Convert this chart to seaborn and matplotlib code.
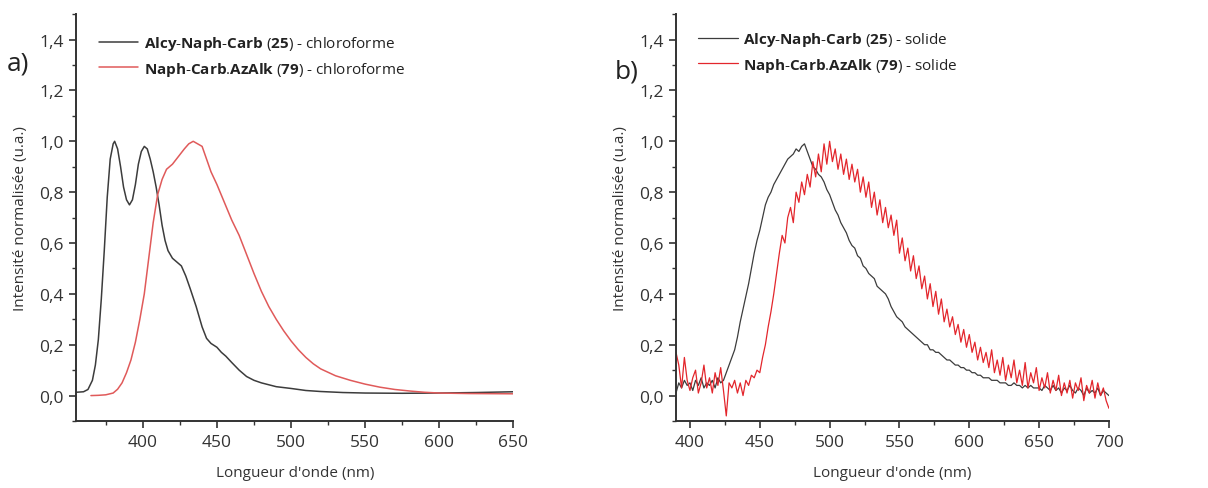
import seaborn as sns
import pandas as pd
import matplotlib.pyplot as plt
import numpy as np
from matplotlib.ticker import MultipleLocator, FuncFormatter

# a) chloroforme
wl_25_chcl3 = [355, 360, 363, 366, 368, 370, 372, 374, 376, 378, 380, 381, 383, 385, 387, 389,
               391, 393, 395, 397, 399, 401, 403, 405, 407, 409, 411, 413, 415, 417, 420, 423,
               426, 429, 432, 436, 440, 443, 446, 450, 453, 456, 460, 465, 470, 475, 480, 490,
               500, 510, 520, 535, 550, 575, 600, 625, 650]
int_25_chcl3 = [0.013, 0.015, 0.024, 0.06, 0.12, 0.22, 0.38, 0.57, 0.78, 0.93, 0.99, 1.0, 0.97,
                0.90, 0.82, 0.77, 0.75, 0.77, 0.83, 0.91, 0.96, 0.98, 0.97, 0.93, 0.88, 0.82,
                0.75, 0.67, 0.61, 0.57, 0.54, 0.525, 0.51, 0.47, 0.42, 0.35, 0.27, 0.225, 0.205,
                0.19, 0.17, 0.155, 0.13, 0.10, 0.075, 0.06, 0.05, 0.035, 0.028, 0.02, 0.016,
                0.012, 0.01, 0.009, 0.01, 0.012, 0.015]

wl_79_chcl3 = [365, 370, 375, 380, 383, 386, 389, 392, 395, 398, 401, 404, 407, 410, 413, 416,
               420, 424, 428, 431, 434, 437, 440, 443, 446, 450, 455, 460, 465, 470, 475, 480,
               485, 490, 495, 500, 505, 510, 515, 520, 530, 540, 550, 560, 570, 580, 590, 600,
               620, 650]
int_79_chcl3 = [0.0, 0.001, 0.003, 0.01, 0.025, 0.05, 0.09, 0.14, 0.21, 0.30, 0.40, 0.54, 0.68,
                0.79, 0.85, 0.89, 0.91, 0.94, 0.97, 0.99, 1.0, 0.99, 0.98, 0.93, 0.88, 0.83,
                0.76, 0.69, 0.63, 0.555, 0.48, 0.41, 0.35, 0.30, 0.255, 0.215, 0.18, 0.15,
                0.125, 0.105, 0.078, 0.06, 0.045, 0.033, 0.024, 0.018, 0.013, 0.01, 0.008, 0.007]

# b) solide (390 -> 700 nm, pas de 2 nm)
wl_solid = list(range(390, 701, 2))
int_25_solid = [0.01, 0.05, 0.03, 0.06, 0.04, 0.05, 0.02, 0.06, 0.04, 0.07, 0.03, 0.05, 0.04,
                0.06, 0.03, 0.07, 0.05, 0.06, 0.09, 0.12, 0.15, 0.18, 0.23, 0.29, 0.34, 0.39,
                0.44, 0.50, 0.56, 0.61, 0.65, 0.70, 0.75, 0.78, 0.80, 0.83, 0.85, 0.87, 0.89,
                0.91, 0.93, 0.94, 0.95, 0.97, 0.96, 0.98, 0.99, 0.96, 0.93, 0.90, 0.89, 0.87,
                0.86, 0.84, 0.81, 0.79, 0.76, 0.73, 0.71, 0.68, 0.66, 0.64, 0.61, 0.59, 0.58,
                0.55, 0.54, 0.51, 0.50, 0.48, 0.47, 0.46, 0.43, 0.42, 0.41, 0.40, 0.38, 0.35,
                0.33, 0.31, 0.30, 0.29, 0.27, 0.26, 0.25, 0.24, 0.23, 0.22, 0.21, 0.20, 0.20,
                0.18, 0.18, 0.17, 0.17, 0.16, 0.15, 0.14, 0.14, 0.13, 0.12, 0.12, 0.11, 0.11,
                0.10, 0.10, 0.09, 0.09, 0.08, 0.08, 0.07, 0.07, 0.07, 0.06, 0.06, 0.06, 0.05,
                0.05, 0.05, 0.04, 0.04, 0.05, 0.04, 0.04, 0.03, 0.04, 0.03, 0.04, 0.03, 0.03,
                0.03, 0.02, 0.04, 0.03, 0.02, 0.04, 0.02, 0.03, 0.01, 0.03, 0.02, 0.04, 0.02,
                0.01, 0.03, 0.02, 0.00, 0.03, 0.01, 0.02, 0.01, 0.03, 0.00, 0.02, 0.01, 0.00]
int_79_solid = [0.17, 0.12, 0.03, 0.15, 0.06, 0.02, 0.07, 0.10, 0.01, 0.05, 0.12, 0.03, 0.07,
                0.01, 0.09, 0.04, 0.11, 0.02, -0.08, 0.05, 0.03, 0.06, 0.01, 0.05, 0.00, 0.06,
                0.04, 0.08, 0.07, 0.10, 0.09, 0.15, 0.20, 0.27, 0.33, 0.40, 0.48, 0.56, 0.63,
                0.60, 0.70, 0.74, 0.68, 0.80, 0.76, 0.84, 0.79, 0.87, 0.82, 0.92, 0.86, 0.95,
                0.88, 0.99, 0.91, 1.00, 0.92, 0.97, 0.89, 0.95, 0.87, 0.93, 0.85, 0.91, 0.84,
                0.89, 0.80, 0.86, 0.78, 0.84, 0.74, 0.80, 0.71, 0.77, 0.68, 0.74, 0.66, 0.71,
                0.63, 0.69, 0.56, 0.62, 0.53, 0.58, 0.49, 0.55, 0.46, 0.51, 0.42, 0.47, 0.38,
                0.44, 0.35, 0.41, 0.32, 0.38, 0.29, 0.34, 0.27, 0.31, 0.24, 0.28, 0.21, 0.26,
                0.19, 0.24, 0.17, 0.21, 0.14, 0.19, 0.13, 0.17, 0.11, 0.18, 0.09, 0.14, 0.08,
                0.15, 0.06, 0.12, 0.07, 0.14, 0.05, 0.10, 0.04, 0.13, 0.03, 0.09, 0.05, 0.11,
                0.02, 0.07, 0.03, 0.09, 0.01, 0.06, 0.02, 0.08, 0.00, 0.05, 0.01, 0.06, -0.01,
                0.05, 0.02, 0.07, -0.02, 0.04, 0.01, 0.06, -0.01, 0.05, 0.00, 0.03, -0.02, -0.05]

labels_chcl3 = [r"$\mathbf{Alcy}$-$\mathbf{Naph}$-$\mathbf{Carb}$ ($\mathbf{25}$) - chloroforme",
                r"$\mathbf{Naph}$-$\mathbf{Carb}$.$\mathbf{AzAlk}$ ($\mathbf{79}$) - chloroforme"]
labels_solid = [r"$\mathbf{Alcy}$-$\mathbf{Naph}$-$\mathbf{Carb}$ ($\mathbf{25}$) - solide",
                r"$\mathbf{Naph}$-$\mathbf{Carb}$.$\mathbf{AzAlk}$ ($\mathbf{79}$) - solide"]

sns.set_theme(style="ticks", rc={"axes.spines.right": False, "axes.spines.top": False})
plt.rcParams['font.family'] = ['Open Sans', 'DejaVu Sans']
plt.rcParams.update({
    'mathtext.fontset': 'custom',
    'mathtext.rm': 'Open Sans',
    'mathtext.bf': 'Open Sans:bold',
    'axes.edgecolor': '#333333',
    'axes.linewidth': 1.4,
    'xtick.color': '#333333',
    'ytick.color': '#333333',
    'xtick.labelcolor': '#333333',
    'ytick.labelcolor': '#333333',
    'xtick.major.size': 5, 'ytick.major.size': 5,
    'xtick.minor.size': 3, 'ytick.minor.size': 3,
    'xtick.major.width': 1.2, 'ytick.major.width': 1.2,
    'xtick.minor.width': 1.0, 'ytick.minor.width': 1.0,
})

black = '#3c3c3c'
red_a = '#e05a5a'
red_b = '#e3262c'

fig = plt.figure(figsize=(12.08, 4.89), dpi=100)
ax1 = fig.add_axes([0.063, 0.137, 0.362, 0.832])
ax2 = fig.add_axes([0.5596, 0.137, 0.3584, 0.832])

sns.lineplot(x=wl_25_chcl3, y=int_25_chcl3, ax=ax1, color=black, lw=1.1, label=labels_chcl3[0])
sns.lineplot(x=wl_79_chcl3, y=int_79_chcl3, ax=ax1, color=red_a, lw=1.1, label=labels_chcl3[1])
sns.lineplot(x=wl_solid, y=int_25_solid, ax=ax2, color=black, lw=0.9, label=labels_solid[0])
sns.lineplot(x=wl_solid, y=int_79_solid, ax=ax2, color=red_b, lw=0.9, label=labels_solid[1])

comma = FuncFormatter(lambda v, p: f"{v:.1f}".replace('.', ','))
for ax, xlim, top in ((ax1, (355, 650), 0.985), (ax2, (390, 700), 0.995)):
    ax.set_xlim(xlim)
    ax.set_ylim(-0.1, 1.5)
    ax.yaxis.set_major_locator(MultipleLocator(0.2))
    ax.yaxis.set_minor_locator(MultipleLocator(0.1))
    ax.xaxis.set_major_locator(MultipleLocator(50))
    ax.xaxis.set_minor_locator(MultipleLocator(25))
    ax.yaxis.set_major_formatter(comma)
    ax.set_yticks([0.0, 0.2, 0.4, 0.6, 0.8, 1.0, 1.2, 1.4])
    ax.tick_params(labelsize=12.5, pad=4)
    ax.set_xlabel("Longueur d'onde (nm)", fontsize=11, color='#333333', labelpad=11)
    ax.set_ylabel("Intensité normalisée (u.a.)", fontsize=11, color='#333333', labelpad=8)
    ax.legend(loc='upper left', bbox_to_anchor=(0.02, top), frameon=False, fontsize=11,
              handlelength=2.6, handletextpad=0.35, labelspacing=0.5, labelcolor='#222222')

fig.text(0.006, 0.855, "a)", fontsize=19, color='#222222')
fig.text(0.509, 0.84, "b)", fontsize=19, color='#222222')

fig.savefig("out.png", dpi=100)
